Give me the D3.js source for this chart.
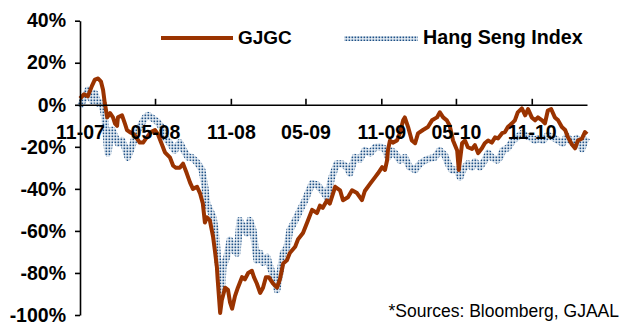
<!DOCTYPE html>
<html><head><meta charset="utf-8">
<script src="https://cdn.jsdelivr.net/npm/d3@7"></script>
<style>
html,body{margin:0;padding:0;background:#fff;}
svg{display:block;font-family:"Liberation Sans",Arial,sans-serif;}
</style></head><body>
<svg id="chart" width="625" height="325"></svg>
<script>
// ---- data ----
const seriesNames = ["GJGC", "Hang Seng Index"];
const xTickDates = ["2007-11-01","2008-05-01","2008-11-01","2009-05-01","2009-11-01","2010-05-01","2010-11-01"];
const xTickLabels = ["11-07","05-08","11-08","05-09","11-09","05-10","11-10"];
const yTickValues = [40,20,0,-20,-40,-60,-80,-100];
const yTickLabels = ["40%","20%","0%","-20%","-40%","-60%","-80%","-100%"];
const sourceNote = "*Sources: Bloomberg, GJAAL";

const gjgcDates = ["2007-11-01","2007-11-11","2007-11-20","2007-11-30","2007-12-07","2007-12-15","2007-12-22","2007-12-27","2007-12-31","2008-01-06","2008-01-13","2008-01-20","2008-01-25","2008-01-30","2008-02-01","2008-02-11","2008-02-18","2008-02-23","2008-03-01","2008-03-11","2008-03-18","2008-03-25","2008-04-02","2008-04-11","2008-04-21","2008-05-01","2008-05-08","2008-05-18","2008-05-25","2008-06-06","2008-06-14","2008-06-21","2008-06-30","2008-07-08","2008-07-17","2008-07-25","2008-08-01","2008-08-11","2008-08-18","2008-08-25","2008-08-30","2008-09-04","2008-09-11","2008-09-19","2008-09-24","2008-09-28","2008-09-30","2008-10-06","2008-10-10","2008-10-18","2008-10-25","2008-10-30","2008-11-04","2008-11-11","2008-11-18","2008-11-28","2008-12-05","2008-12-13","2008-12-22","2008-12-27","2009-01-03","2009-01-11","2009-01-18","2009-01-25","2009-02-01","2009-02-11","2009-02-21","2009-02-28","2009-03-08","2009-03-17","2009-03-24","2009-04-06","2009-04-13","2009-04-25","2009-05-07","2009-05-17","2009-05-29","2009-06-05","2009-06-12","2009-06-22","2009-06-29","2009-07-12","2009-07-24","2009-07-31","2009-08-12","2009-08-22","2009-09-03","2009-09-15","2009-09-22","2009-10-05","2009-10-17","2009-10-24","2009-11-03","2009-11-10","2009-11-15","2009-11-17","2009-11-22","2009-11-29","2009-12-09","2009-12-16","2009-12-24","2009-12-28","2010-01-05","2010-01-14","2010-01-22","2010-01-29","2010-02-10","2010-02-22","2010-03-04","2010-03-16","2010-03-23","2010-03-31","2010-04-09","2010-04-16","2010-04-24","2010-05-04","2010-05-08","2010-05-16","2010-05-23","2010-05-30","2010-06-09","2010-06-16","2010-06-24","2010-07-03","2010-07-10","2010-07-18","2010-07-27","2010-08-04","2010-08-11","2010-08-21","2010-08-28","2010-09-04","2010-09-14","2010-09-21","2010-09-28","2010-10-08","2010-10-16","2010-10-23","2010-11-01","2010-11-09","2010-11-16","2010-11-26","2010-12-03","2010-12-10","2010-12-18","2010-12-27","2011-01-04","2011-01-13","2011-01-21","2011-01-28","2011-02-07","2011-02-14","2011-02-21","2011-03-03","2011-03-10","2011-03-15"];
const gjgcValues = [3,5,4,9,12,12.5,11,7,1,-6,-4,-6,-9,-10,-6,-5,-9,-12,-13,-14,-16,-18,-18,-15.5,-13,-12,-14,-19,-22.6,-25,-29,-30,-30,-28,-32.6,-37,-40,-39,-42,-47,-56,-53.5,-55,-63,-70.5,-77,-83,-99,-93,-87,-88,-94,-97,-91,-87,-82,-83,-80,-79,-82,-85,-89.5,-87,-82,-82,-85,-87,-83,-75.5,-74,-70.5,-67.5,-64,-61,-55,-50,-51.5,-48,-49,-45.5,-47,-39,-40.7,-45.4,-44,-40.7,-42,-45.4,-41,-37.5,-34.4,-32.6,-29.7,-31,-26.4,-21.7,-17,-18,-17,-13.5,-7.4,-6,-10.6,-17,-18.3,-13.6,-12,-10.6,-7.4,-6,-3.6,-6,-7.4,-10,-17,-21.7,-31,-18.3,-17,-20.2,-21,-19.2,-23,-20.7,-18.3,-17,-18,-15.5,-16,-13.5,-13,-10.6,-8.8,-7.4,-3.6,-1.7,-5,-2,-6,-7.4,-6,-7.4,-8.8,-2.7,-2,-6,-7.4,-10.6,-12,-15.5,-19,-20.7,-17,-16,-13,-14];

const hsiDates = ["2007-11-01","2007-11-08","2007-11-13","2007-11-20","2007-11-30","2007-12-07","2007-12-15","2007-12-24","2007-12-31","2008-01-06","2008-01-08","2008-01-13","2008-01-18","2008-01-25","2008-02-01","2008-02-11","2008-02-18","2008-02-25","2008-03-06","2008-03-13","2008-03-25","2008-04-07","2008-04-14","2008-04-26","2008-05-08","2008-05-18","2008-05-25","2008-06-06","2008-06-18","2008-06-30","2008-07-08","2008-07-20","2008-07-29","2008-08-06","2008-08-13","2008-08-23","2008-08-30","2008-09-04","2008-09-11","2008-09-19","2008-09-24","2008-09-28","2008-09-30","2008-10-06","2008-10-10","2008-10-13","2008-10-22","2008-10-30","2008-11-06","2008-11-16","2008-11-23","2008-11-30","2008-12-10","2008-12-17","2008-12-25","2009-01-03","2009-01-11","2009-01-18","2009-01-28","2009-02-04","2009-02-16","2009-02-21","2009-02-28","2009-03-08","2009-03-17","2009-03-24","2009-04-06","2009-04-18","2009-04-30","2009-05-07","2009-05-17","2009-05-29","2009-06-10","2009-06-22","2009-07-04","2009-07-16","2009-07-28","2009-08-10","2009-08-17","2009-08-29","2009-09-10","2009-09-22","2009-10-05","2009-10-17","2009-10-29","2009-11-10","2009-11-17","2009-11-27","2009-12-04","2009-12-16","2009-12-28","2010-01-09","2010-01-22","2010-02-03","2010-02-15","2010-02-27","2010-03-11","2010-03-23","2010-04-04","2010-04-12","2010-04-21","2010-05-04","2010-05-11","2010-05-18","2010-05-30","2010-06-09","2010-06-16","2010-06-28","2010-07-10","2010-07-18","2010-07-27","2010-08-09","2010-08-16","2010-08-23","2010-09-04","2010-09-16","2010-09-26","2010-10-08","2010-10-16","2010-10-28","2010-11-09","2010-11-16","2010-11-28","2010-12-10","2010-12-22","2011-01-04","2011-01-15","2011-01-25","2011-02-07","2011-02-18","2011-03-03","2011-03-10","2011-03-15"];
const hsiValues = [-1,2,3.5,7,2,5.4,0.7,1,-6,-20,-23,-16,-12,-15,-18.3,-17,-20.2,-25,-20,-15.5,-10.6,-6,-5,-6.5,-8.3,-11,-15.5,-18.3,-21.7,-18,-21,-25,-25,-26.4,-28,-31,-39,-47,-50,-53.4,-59.7,-67.8,-74,-82,-88,-77,-72.5,-64.4,-69,-70.6,-55,-58,-61,-55,-59.7,-74,-70.6,-75,-72.5,-77,-83.4,-88,-80,-70.6,-67.8,-59.7,-55,-50,-45.4,-42,-37.5,-38,-40.7,-44,-34.4,-28,-28,-29.7,-32.6,-25,-26,-21.7,-23,-20.2,-20,-21,-25,-22,-23,-26.4,-25,-29.7,-31,-28,-26.4,-25.5,-25,-21.7,-24,-28,-31,-31,-34.4,-31,-28,-29.7,-27,-29.7,-26.4,-23,-25,-26.4,-25,-21.7,-20.5,-17,-15.5,-13.6,-14.5,-15.5,-17,-16,-17,-14.5,-15.5,-17,-18.3,-15,-18,-16,-21,-17,-15.5];

// ---- chart ----
const parse = d3.timeParse("%Y-%m-%d");
const svg = d3.select("#chart");
const x = d3.scaleTime().domain([parse("2007-11-01"), parse("2011-03-15")]).range([80, 587]);
const y = d3.scaleLinear().domain([-100, 40]).range([315, 20.7]);

const defs = svg.append("defs");
const pat = defs.append("pattern").attr("id","hsiPat").attr("patternUnits","userSpaceOnUse")
  .attr("width",3).attr("height",3);
pat.append("rect").attr("width",3).attr("height",3).attr("fill","#eef3f8");
pat.append("rect").attr("x",0.5).attr("y",0.5).attr("width",1.7).attr("height",1.7).attr("fill","#1f5186");

const gjgc = gjgcDates.map((d,i)=>({date:parse(d), v:gjgcValues[i]}));
const hsi = hsiDates.map((d,i)=>({date:parse(d), v:hsiValues[i]}));
const line = d3.line().x(d=>x(d.date)).y(d=>y(d.v));

svg.append("path").datum(hsi).attr("d", line).attr("fill","none")
  .attr("stroke","url(#hsiPat)").attr("stroke-width",7).attr("stroke-linejoin","round");
svg.append("path").datum(gjgc).attr("d", line).attr("fill","none")
  .attr("stroke","#9a3300").attr("stroke-width",4).attr("stroke-linejoin","round");

// y axis
const yAxis = svg.append("g").attr("transform","translate(80,0)")
  .call(d3.axisLeft(y).tickValues(yTickValues).tickFormat((d,i)=>yTickLabels[i]).tickSize(5).tickSizeOuter(0).tickPadding(9));
yAxis.select(".domain").attr("stroke","#000").attr("stroke-width",1.6);
yAxis.selectAll(".tick line").attr("stroke","#000").attr("stroke-width",1.6);
yAxis.selectAll("text").attr("font-size",19.5).attr("font-weight","bold").attr("fill","#000")
  .attr("font-family","'Liberation Sans',Arial,sans-serif");

// x axis at 0%
const xAxis = svg.append("g").attr("transform",`translate(0,${y(0)})`)
  .call(d3.axisBottom(x).tickValues(xTickDates.map(parse)).tickFormat((d,i)=>xTickLabels[i]).tickSize(-6).tickSizeOuter(0));
xAxis.select(".domain").attr("stroke","#000").attr("stroke-width",1.6);
xAxis.selectAll(".tick line").attr("stroke","#000").attr("stroke-width",1.6);
xAxis.selectAll("text").attr("dy",null).attr("y",34).attr("font-size",19.5).attr("font-weight","bold")
  .attr("fill","#000").attr("font-family","'Liberation Sans',Arial,sans-serif");

// legend
const leg = svg.append("g");
leg.append("line").attr("x1",161).attr("x2",233).attr("y1",38).attr("y2",38)
  .attr("stroke","#9a3300").attr("stroke-width",4);
leg.append("text").attr("x",238).attr("y",44).text(seriesNames[0])
  .attr("font-size",19).attr("font-weight","bold");
leg.append("line").attr("x1",344).attr("x2",418).attr("y1",38.5).attr("y2",38.5)
  .attr("stroke","url(#hsiPat)").attr("stroke-width",5);
leg.append("text").attr("x",423).attr("y",44).text(seriesNames[1])
  .attr("font-size",19.7).attr("font-weight","bold");

svg.append("text").attr("x",619).attr("y",317).attr("text-anchor","end")
  .attr("font-size",17.5).text(sourceNote);
</script>
</body></html>
